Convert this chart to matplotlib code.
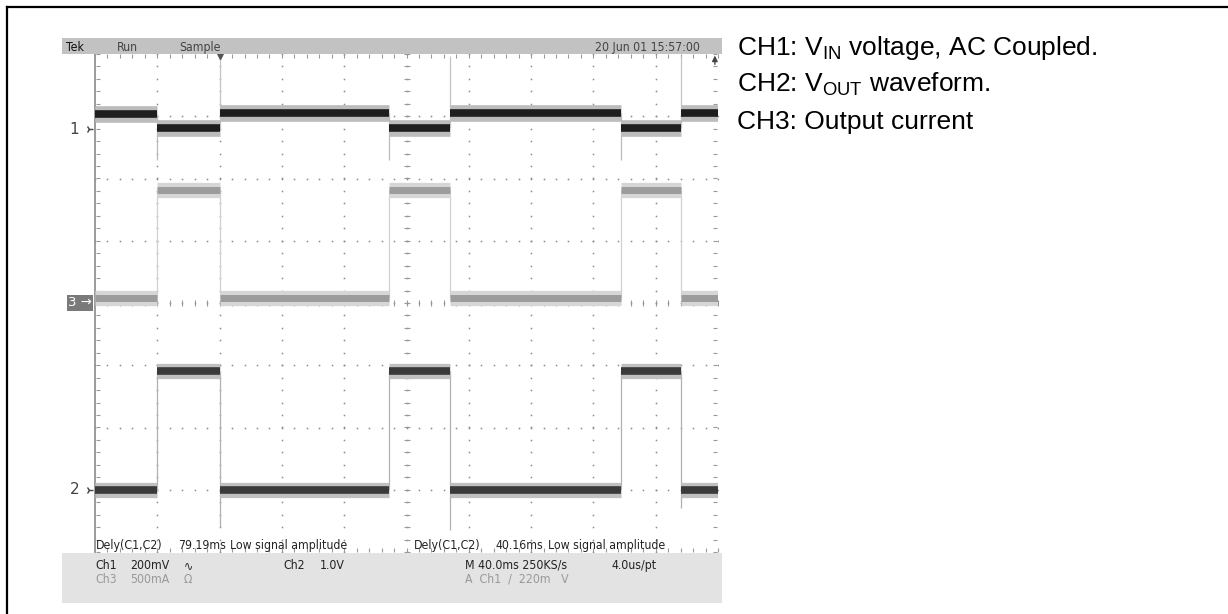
import numpy as np
import matplotlib
matplotlib.use('Agg')
import matplotlib.pyplot as plt
from matplotlib.patches import Rectangle
from matplotlib.lines import Line2D

W, H = 1228, 614

# --- scope data ---
seg_ms = [0, 40, 80, 189, 228, 338, 376, 400]      # segment boundaries, ms
ch1_mv = [50, 5, 54, 5, 54, 5, 54]                 # CH1 Vin (AC), mV
ch1_dip_mv = -100                                   # dip on falling edges
ch1_jump_mv = 235                                   # spike on rising edges
ch3_ma = [40, 905, 40, 905, 40, 905, 40]           # CH3 output current, mA
ch2_v = [0.0, 1.9, 0.0, 1.9, 0.0, 1.9, 0.0]        # CH2 Vout, V
ch2_under_v = [-0.6, -0.65, -0.3]                  # undershoot at falling edges

ch1_scale, ch1_pos = 200.0, 2.79    # mV/div, marker position in div
ch3_scale, ch3_pos = 500.0, 0.0     # mA/div
ch2_scale, ch2_pos = 1.0, -3.0      # V/div
trig_ms = 80
trig_level_mv = 220

header_left = ['Tek', 'Run', 'Sample']
header_date = '20 Jun 01 15:57:00'
meas = [('Dely(C1,C2)', '79.19ms', 'Low signal amplitude'),
        ('Dely(C1,C2)', '40.16ms', 'Low signal amplitude')]
notes = [r'CH1: V$_{\mathrm{IN}}$ voltage, AC Coupled.',
         r'CH2: V$_{\mathrm{OUT}}$ waveform.',
         'CH3: Output current']

plt.rcParams['mathtext.fontset'] = 'custom'
plt.rcParams['mathtext.rm'] = 'Liberation Sans'
plt.rcParams['mathtext.it'] = 'Liberation Sans'
scope_kw = dict(family='DejaVu Sans', fontstretch='condensed', fontsize=8.8)


def fx(x):
    return x / W


def fy(y):
    return 1 - y / H


fig = plt.figure(figsize=(W / 100, H / 100), dpi=100)
fig.patch.set_facecolor('white')

# outer frame (top and left edges)
fig.add_artist(Line2D([fx(7), 1], [fy(7), fy(7)], color='black', lw=1.6))
fig.add_artist(Line2D([fx(7), fx(7)], [fy(7), 0], color='black', lw=1.6))

# header bar and bottom panel
fig.add_artist(Rectangle((fx(62), fy(54)), 660 / W, 16 / H, transform=fig.transFigure,
                         facecolor='#c2c2c2', edgecolor='none'))
fig.add_artist(Rectangle((fx(62), fy(603)), 660 / W, 50 / H, transform=fig.transFigure,
                         facecolor='#e3e3e3', edgecolor='none'))

hx = [66, 117, 179]
for s, x, c in zip(header_left, hx, ['#111', '#444', '#444']):
    fig.text(fx(x), fy(51), s, color=c, va='baseline', **scope_kw)
fig.text(fx(700), fy(51), header_date, color='#444', va='baseline', ha='right', **scope_kw)

# --- graticule axes ---
ax = fig.add_axes([fx(95), fy(552), 623 / W, 498 / H])
ax.set_xlim(0, 400)
ax.set_ylim(-4, 4)
ax.axis('off')

div_x = 40.0
fine_x = np.arange(0, 10.001, 0.2) * div_x
fine_y = np.arange(-4, 4.001, 0.2)
for k in range(1, 10):
    ax.plot(np.full_like(fine_y, k * div_x), fine_y, ls='none', marker='s', ms=1.1,
            color='#8a8a8a', mew=0)
for k in range(-3, 4):
    ax.plot(fine_x, np.full_like(fine_x, k), ls='none', marker='s', ms=1.1,
            color='#8a8a8a', mew=0)
# center cross ticks
ax.plot(np.full_like(fine_y, 200), fine_y, ls='none', marker='_', ms=5, mew=0.8, color='#999')
ax.plot(fine_x, np.zeros_like(fine_x), ls='none', marker='|', ms=5, mew=0.8, color='#999')
# border and its ticks
ax.plot([0, 0], [-4, 4], color='#8a8a8a', lw=1.2, clip_on=False)
ax.plot(np.full_like(fine_y, 2), fine_y, ls='none', marker='_', ms=3, mew=0.8, color='#999', clip_on=False)
ax.plot(np.full_like(fine_y, 398), fine_y, ls='none', marker='_', ms=3, mew=0.8, color='#999', clip_on=False)
ax.plot(fine_x, np.full_like(fine_x, 3.97), ls='none', marker='|', ms=3, mew=0.8, color='#999', clip_on=False)
ax.plot(fine_x, np.full_like(fine_x, -3.97), ls='none', marker='|', ms=3, mew=0.8, color='#999', clip_on=False)

starts, ends = seg_ms[:-1], seg_ms[1:]
edges = seg_ms[1:-1]

y1 = ch1_pos + np.array(ch1_mv) / ch1_scale
y3 = ch3_pos + np.array(ch3_ma) / ch3_scale
y2 = ch2_pos + np.array(ch2_v) / ch2_scale

# edges (thin light lines)
for i, e in enumerate(edges):
    if i % 2 == 0:   # CH1 falling, CH2/CH3 rising
        ax.vlines(e, ch1_pos + ch1_dip_mv / ch1_scale, y1[i], color='#bbbbbb', lw=0.9)
        ax.vlines(e, y3[i], y3[i + 1], color='#d0d0d0', lw=0.9)
        ax.vlines(e, y2[i], y2[i + 1], color='#b0b0b0', lw=0.9)
    else:
        ax.vlines(e, y1[i], ch1_pos + ch1_jump_mv / ch1_scale, color='#c4c4c4', lw=0.9)
        ax.vlines(e, y3[i + 1], y3[i], color='#d0d0d0', lw=0.9)
        ax.vlines(e, ch2_pos + ch2_under_v[i // 2] / ch2_scale, y2[i], color='#b0b0b0', lw=0.9)

# traces: fuzz + core
ax.hlines(y3, starts, ends, color='#d6d6d6', lw=11)
ax.hlines(y3, starts, ends, color='#9c9c9c', lw=5)
ax.hlines(y1, starts, ends, color='#bcbcbc', lw=12)
ax.hlines(y1, starts, ends, color='#1e1e1e', lw=5.5)
ax.hlines(y2, starts, ends, color='#c0c0c0', lw=11)
ax.hlines(y2, starts, ends, color='#3a3a3a', lw=5.5)

# trigger markers
ax.plot([trig_ms], [4.0], marker='v', ms=7, color='#555', clip_on=False)
tl = ch1_pos + trig_level_mv / ch1_scale
ax.annotate('', xy=(398, 4.02), xytext=(398, tl - 0.1),
            arrowprops=dict(arrowstyle='-|>', color='#444', lw=1.0, mutation_scale=8),
            annotation_clip=False)

# channel markers
for lab, pos in [('1', ch1_pos), ('2', ch2_pos)]:
    ax.text(-10, pos, lab, family='DejaVu Sans', fontsize=11, color='#444',
            ha='right', va='center', clip_on=False)
    ax.plot([-4], [pos], marker='4', ms=6, mew=1, color='#444', clip_on=False)
ax.text(-2, ch3_pos, '3 \u2192', family='DejaVu Sans', fontsize=9.5, color='white',
        ha='right', va='center', clip_on=False,
        bbox=dict(boxstyle='square,pad=0.1', fc='#7a7a7a', ec='none'))

# measurement readouts
for (a, b, c), x0 in zip(meas, [96, 414]):
    fig.text(fx(x0), fy(549), a, color='#222', va='baseline', **scope_kw)
    fig.text(fx(x0 + 82), fy(549), b, color='#222', va='baseline', **scope_kw)
    fig.text(fx(x0 + 134), fy(549), c, color='#222', va='baseline', **scope_kw)

row1 = [(95, 'Ch1'), (130, '200mV'), (184, '\u223f'), (283, 'Ch2'), (320, '1.0V'),
        (465, 'M 40.0ms 250KS/s'), (612, '4.0us/pt')]
row2 = [(95, 'Ch3'), (130, '500mA'), (184, '\u03a9'), (465, 'A  Ch1  /  220m   V')]
for x, s in row1:
    fig.text(fx(x), fy(569), s, color='#222', va='baseline', **scope_kw)
for x, s in row2:
    fig.text(fx(x), fy(583), s, color='#999', va='baseline', **scope_kw)

# notes on the right
for i, s in enumerate(notes):
    fig.text(fx(737), fy(55 + 37 * i), s, family='Liberation Sans', fontsize=19,
             color='black', va='baseline')

fig.savefig('out.png', dpi=100)
